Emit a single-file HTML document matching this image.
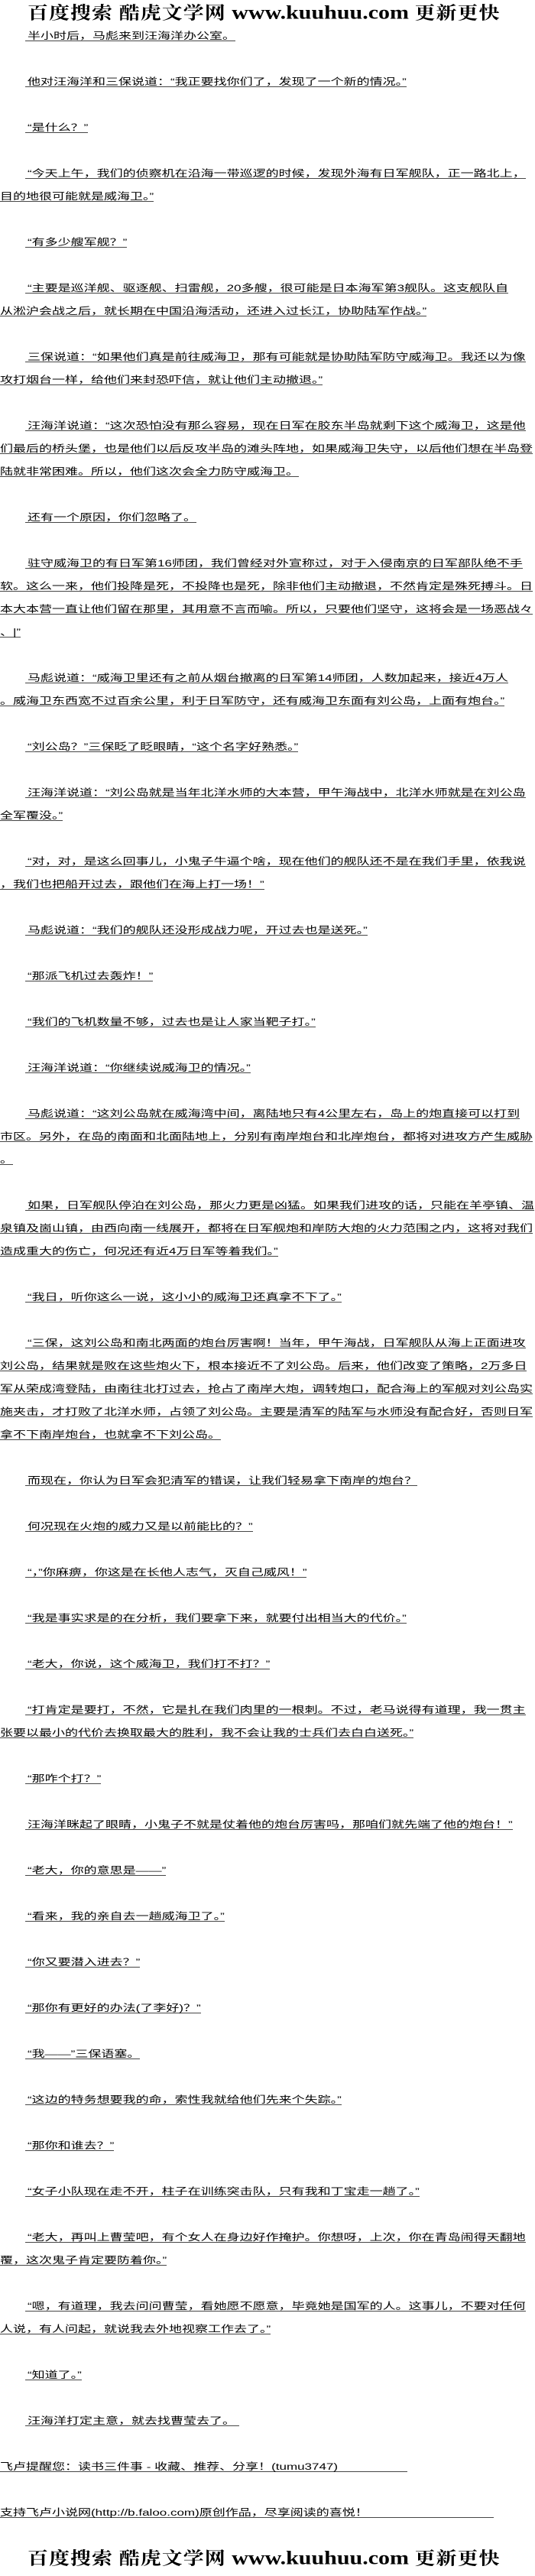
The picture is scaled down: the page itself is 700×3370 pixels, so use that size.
<!DOCTYPE html>
<html><head><meta charset="utf-8"><style>
html,body{margin:0;padding:0;background:#fff;}
body{width:700px;height:3370px;position:relative;overflow:hidden;font-family:"Liberation Sans","Noto Sans CJK SC",sans-serif;color:#000;}
.l{position:absolute;left:0;font-size:17px;line-height:17px;height:17px;white-space:nowrap;border-bottom:1px solid #000;transform:scaleY(0.72);transform-origin:0 100%;}
.i{left:33px;padding-left:3px;}
.hd{position:absolute;left:36px;white-space:nowrap;font-weight:bold;font-size:27px;line-height:30px;transform:scaleY(0.85);transform-origin:0 50%;}
.hd .c{font-family:"Noto Serif CJK SC",serif;letter-spacing:1px;}
.hd .u{font-family:"Liberation Serif",serif;font-size:30px;}
</style></head><body>
<div class="hd" style="top:0"><span class="c">百度搜索 酷虎文学网</span> <span class="u">www.kuuhuu.com</span> <span class="c">更新更快</span></div>

<div class="l i" style="top:36px">半小时后，马彪来到汪海洋办公室。</div>
<div class="l i" style="top:96px">他对汪海洋和三保说道：“我正要找你们了，发现了一个新的情况。”</div>
<div class="l i" style="top:156px">“是什么？”</div>
<div class="l i" style="top:216px">“今天上午，我们的侦察机在沿海一带巡逻的时候，发现外海有日军舰队，正一路北上，</div>
<div class="l" style="top:246px">目的地很可能就是威海卫。”</div>
<div class="l i" style="top:306px">“有多少艘军舰？”</div>
<div class="l i" style="top:366px">“主要是巡洋舰、驱逐舰、扫雷舰，20多艘，很可能是日本海军第3舰队。这支舰队自</div>
<div class="l" style="top:396px">从淞沪会战之后，就长期在中国沿海活动，还进入过长江，协助陆军作战。”</div>
<div class="l i" style="top:456px">三保说道：“如果他们真是前往威海卫，那有可能就是协助陆军防守威海卫。我还以为像</div>
<div class="l" style="top:486px">攻打烟台一样，给他们来封恐吓信，就让他们主动撤退。”</div>
<div class="l i" style="top:546px">汪海洋说道：“这次恐怕没有那么容易，现在日军在胶东半岛就剩下这个威海卫，这是他</div>
<div class="l" style="top:576px">们最后的桥头堡，也是他们以后反攻半岛的滩头阵地，如果威海卫失守，以后他们想在半岛登</div>
<div class="l" style="top:606px">陆就非常困难。所以，他们这次会全力防守威海卫。</div>
<div class="l i" style="top:666px">还有一个原因，你们忽略了。</div>
<div class="l i" style="top:726px">驻守威海卫的有日军第16师团，我们曾经对外宣称过，对于入侵南京的日军部队绝不手</div>
<div class="l" style="top:756px">软。这么一来，他们投降是死，不投降也是死，除非他们主动撤退，不然肯定是殊死搏斗。日</div>
<div class="l" style="top:786px">本大本营一直让他们留在那里，其用意不言而喻。所以，只要他们坚守，这将会是一场恶战々</div>
<div class="l" style="top:816px">、|”</div>
<div class="l i" style="top:876px">马彪说道：“威海卫里还有之前从烟台撤离的日军第14师团，人数加起来，接近4万人</div>
<div class="l" style="top:906px">。威海卫东西宽不过百余公里，利于日军防守，还有威海卫东面有刘公岛，上面有炮台。”</div>
<div class="l i" style="top:966px">“刘公岛？”三保眨了眨眼睛，“这个名字好熟悉。”</div>
<div class="l i" style="top:1026px">汪海洋说道：“刘公岛就是当年北洋水师的大本营，甲午海战中，北洋水师就是在刘公岛</div>
<div class="l" style="top:1056px">全军覆没。”</div>
<div class="l i" style="top:1116px">“对，对，是这么回事儿，小鬼子牛逼个啥，现在他们的舰队还不是在我们手里，依我说</div>
<div class="l" style="top:1146px">，我们也把船开过去，跟他们在海上打一场！”</div>
<div class="l i" style="top:1206px">马彪说道：“我们的舰队还没形成战力呢，开过去也是送死。”</div>
<div class="l i" style="top:1266px">“那派飞机过去轰炸！”</div>
<div class="l i" style="top:1326px">“我们的飞机数量不够，过去也是让人家当靶子打。”</div>
<div class="l i" style="top:1386px">汪海洋说道：“你继续说威海卫的情况。”</div>
<div class="l i" style="top:1446px">马彪说道：“这刘公岛就在威海湾中间，离陆地只有4公里左右，岛上的炮直接可以打到</div>
<div class="l" style="top:1476px">市区。另外，在岛的南面和北面陆地上，分别有南岸炮台和北岸炮台，都将对进攻方产生威胁</div>
<div class="l" style="top:1506px">。</div>
<div class="l i" style="top:1566px">如果，日军舰队停泊在刘公岛，那火力更是凶猛。如果我们进攻的话，只能在羊亭镇、温</div>
<div class="l" style="top:1596px">泉镇及崮山镇，由西向南一线展开，都将在日军舰炮和岸防大炮的火力范围之内，这将对我们</div>
<div class="l" style="top:1626px">造成重大的伤亡，何况还有近4万日军等着我们。”</div>
<div class="l i" style="top:1686px">“我日，听你这么一说，这小小的威海卫还真拿不下了。”</div>
<div class="l i" style="top:1746px">“三保，这刘公岛和南北两面的炮台厉害啊！当年，甲午海战，日军舰队从海上正面进攻</div>
<div class="l" style="top:1776px">刘公岛，结果就是败在这些炮火下，根本接近不了刘公岛。后来，他们改变了策略，2万多日</div>
<div class="l" style="top:1806px">军从荣成湾登陆，由南往北打过去，抢占了南岸大炮，调转炮口，配合海上的军舰对刘公岛实</div>
<div class="l" style="top:1836px">施夹击，才打败了北洋水师，占领了刘公岛。主要是清军的陆军与水师没有配合好，否则日军</div>
<div class="l" style="top:1866px">拿不下南岸炮台，也就拿不下刘公岛。</div>
<div class="l i" style="top:1926px">而现在，你认为日军会犯清军的错误，让我们轻易拿下南岸的炮台？</div>
<div class="l i" style="top:1986px">何况现在火炮的威力又是以前能比的？”</div>
<div class="l i" style="top:2046px">“，”你麻痹，你这是在长他人志气，灭自己威风！”</div>
<div class="l i" style="top:2106px">“我是事实求是的在分析，我们要拿下来，就要付出相当大的代价。”</div>
<div class="l i" style="top:2166px">“老大，你说，这个威海卫，我们打不打？”</div>
<div class="l i" style="top:2226px">“打肯定是要打，不然，它是扎在我们肉里的一根刺。不过，老马说得有道理，我一贯主</div>
<div class="l" style="top:2256px">张要以最小的代价去换取最大的胜利，我不会让我的士兵们去白白送死。”</div>
<div class="l i" style="top:2316px">“那咋个打？”</div>
<div class="l i" style="top:2376px">汪海洋眯起了眼睛，小鬼子不就是仗着他的炮台厉害吗，那咱们就先端了他的炮台！”</div>
<div class="l i" style="top:2436px">“老大，你的意思是——”</div>
<div class="l i" style="top:2496px">“看来，我的亲自去一趟威海卫了。”</div>
<div class="l i" style="top:2556px">“你又要潜入进去？”</div>
<div class="l i" style="top:2616px">“那你有更好的办法(了李好)？”</div>
<div class="l i" style="top:2676px">“我——”三保语塞。</div>
<div class="l i" style="top:2736px">“这边的特务想要我的命，索性我就给他们先来个失踪。”</div>
<div class="l i" style="top:2796px">“那你和谁去？”</div>
<div class="l i" style="top:2856px">“女子小队现在走不开，柱子在训练突击队，只有我和丁宝走一趟了。”</div>
<div class="l i" style="top:2916px">“老大，再叫上曹莹吧，有个女人在身边好作掩护。你想呀，上次，你在青岛闹得天翻地</div>
<div class="l" style="top:2946px">覆，这次鬼子肯定要防着你。”</div>
<div class="l i" style="top:3006px">“嗯，有道理，我去问问曹莹，看她愿不愿意，毕竟她是国军的人。这事儿，不要对任何</div>
<div class="l" style="top:3036px">人说，有人问起，就说我去外地视察工作去了。”</div>
<div class="l i" style="top:3096px">“知道了。”</div>
<div class="l i" style="top:3156px">汪海洋打定主意，就去找曹莹去了。&nbsp;</div>
<div class="l" style="top:3216px;width:533px">飞卢提醒您：读书三件事 - 收藏、推荐、分享！(tumu3747)</div>
<div class="l" style="top:3276px;width:646px">支持飞卢小说网(http://b.faloo.com)原创作品，尽享阅读的喜悦！</div>

<div class="hd" style="top:3330px"><span class="c">百度搜索 酷虎文学网</span> <span class="u">www.kuuhuu.com</span> <span class="c">更新更快</span></div>
</body></html>
